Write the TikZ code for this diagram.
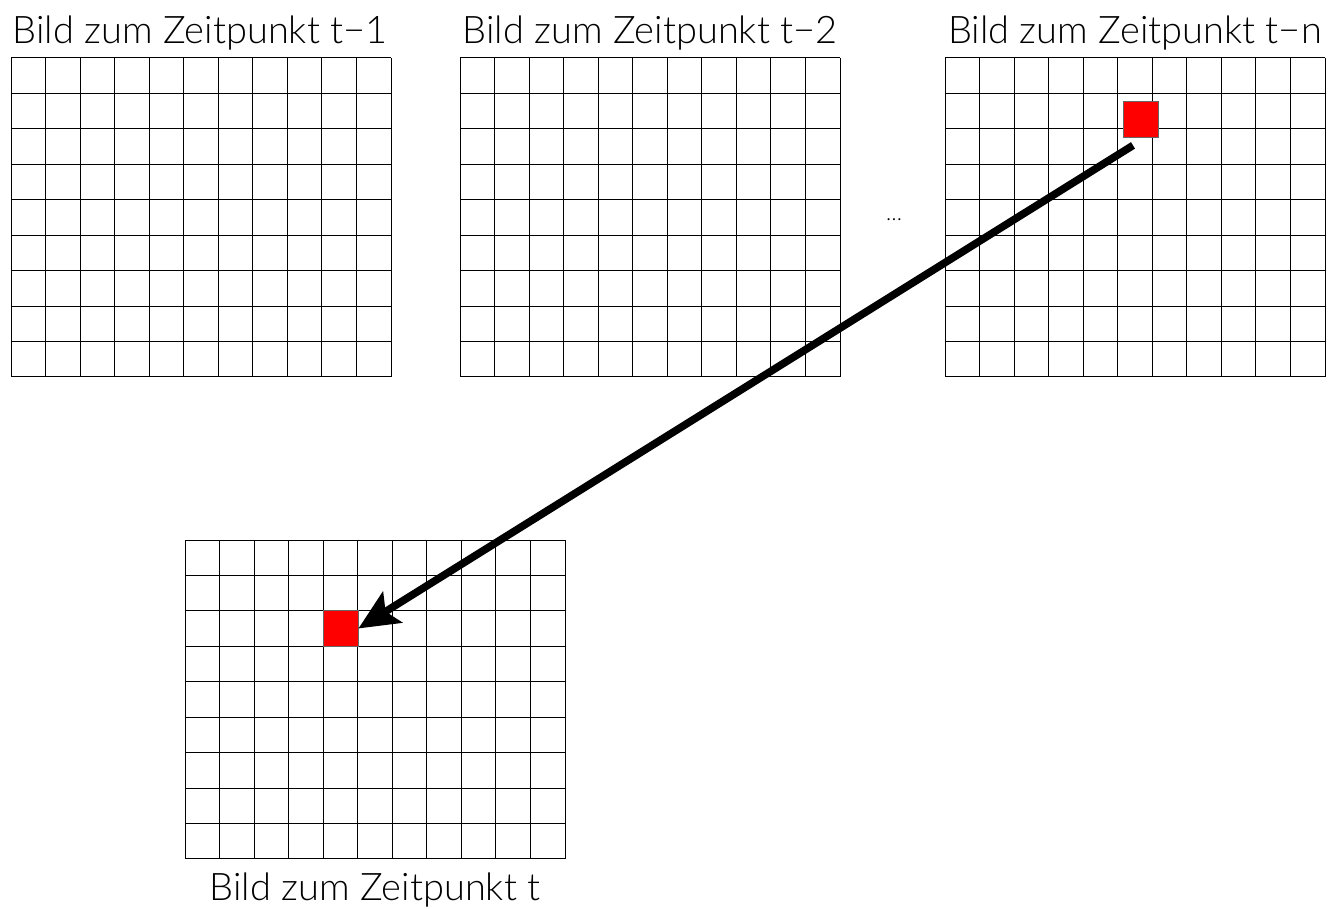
\documentclass[tikz,border=0pt]{standalone}
\usepackage{fontspec}
\setmainfont{Lato}[UprightFont={* Light}]
\usetikzlibrary{arrows.meta}
\begin{document}
\begin{tikzpicture}[x=0.5pt,y=-0.5pt,
		gitter/.style={line width=0.5pt},
		titel/.style={font=\fontsize{19}{21}\selectfont,inner sep=0pt},
		zelle/.style={draw=black!60,line width=0.4pt,fill=red,minimum width=17.5pt,minimum height=18pt,inner sep=0pt},
		pfeil/.style={line width=3.8pt,-{Stealth[length=20pt,width=18pt,inset=4pt]}}]
	\useasboundingbox (0,0) rectangle (1328,909);
	% die vier Bilder
	\foreach \gx/\gy in {11/58,460/58,945/58,185/540}{
		\foreach \i in {0,...,11} \draw[gitter] (\gx+\i*34.55,\gy) -- ++(0,319);
		\foreach \j in {0,...,9} \draw[gitter] (\gx,\gy+\j*35.44) -- ++(380,0);
	}
	\node[titel,anchor=south] (titel1) at (200,51) {Bild zum Zeitpunkt t−1};
	\node[titel,anchor=south] (titel2) at (650,51) {Bild zum Zeitpunkt t−2};
	\node[titel,anchor=south] (titeln) at (1135,51) {Bild zum Zeitpunkt t−n};
	\node[titel,anchor=north] (titelt) at (375,872) {Bild zum Zeitpunkt t};
	\node[font=\fontsize{11}{12}\selectfont] (punkte) at (894,220) {\dots};
	% Pixel
	\node[zelle] (quelle) at (1140.5,119) {};
	\node[zelle] (ziel) at (340.5,628.5) {};
	\draw[pfeil] ([shift={(-7.5,8)}]quelle.south) -- (ziel.east);
\end{tikzpicture}
\end{document}
